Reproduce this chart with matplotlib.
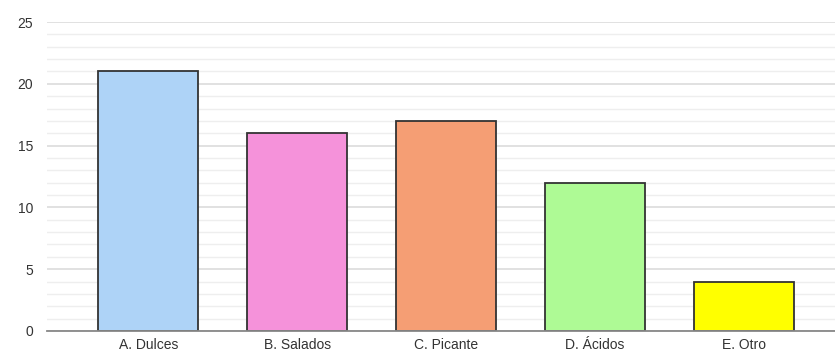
import numpy as np
import matplotlib.pyplot as plt

plt.rcParams['font.family'] = ['Liberation Sans', 'DejaVu Sans']

categorias = ['A. Dulces', 'B. Salados', 'C. Picante', 'D. Ácidos', 'E. Otro']
valores = [21, 16, 17, 12, 4]
colores = ['#aed3f7', '#f592da', '#f59e74', '#aefa95', '#ffff00']

fig = plt.figure(figsize=(8.35, 3.53), dpi=100)
ax = fig.add_axes([47/835, 22/353, 1 - 47/835, 309/353])

x = np.arange(len(categorias))
ax.bar(x, valores, width=0.67, color=colores, edgecolor='#333333', linewidth=1.3, zorder=3)

ax.set_xlim(-0.68, 4.61)
ax.set_ylim(0, 25)
ax.set_yticks(np.arange(0, 26, 5))
ax.set_yticks(np.arange(0, 26, 1), minor=True)
ax.grid(True, which='major', axis='y', color='#dcdcdc', linewidth=1.2, zorder=0)
ax.grid(True, which='minor', axis='y', color='#eeeeee', linewidth=1.0, zorder=0)
ax.set_xticks(x)
ax.set_xticklabels(categorias)
ax.tick_params(axis='both', which='both', length=0, labelsize=10, colors='#333333')
ax.tick_params(axis='y', pad=10, which='both')
ax.tick_params(axis='x', pad=5)

for s in ['top', 'right', 'left']:
    ax.spines[s].set_visible(False)
ax.spines['bottom'].set_color('#888888')
ax.spines['bottom'].set_linewidth(1.3)
ax.spines['bottom'].set_zorder(4)

fig.savefig('out.png', dpi=100)
